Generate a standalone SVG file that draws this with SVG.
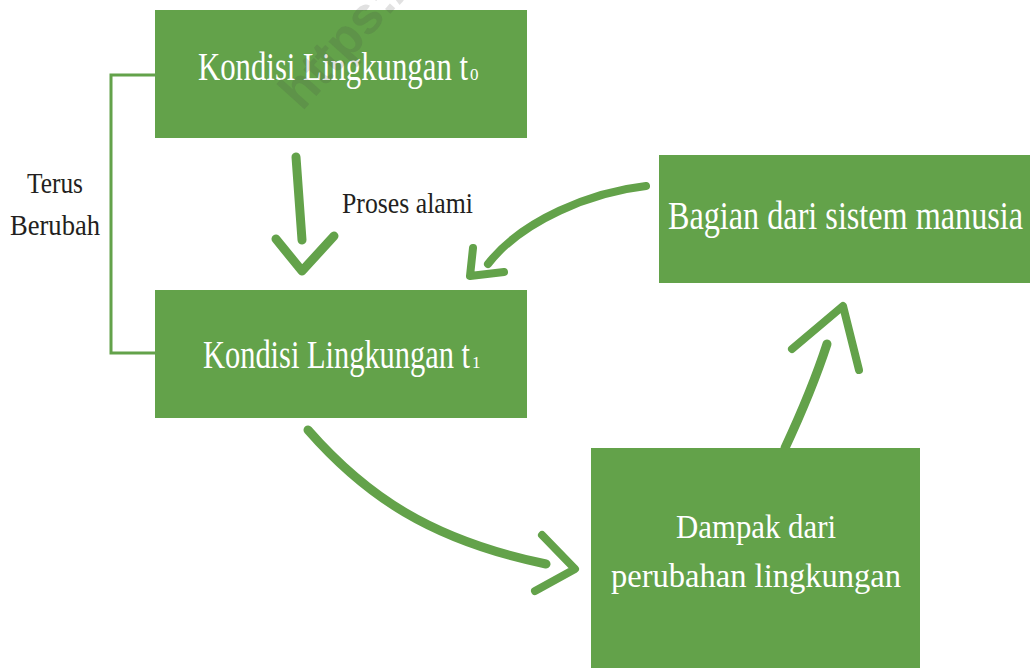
<svg xmlns="http://www.w3.org/2000/svg" width="1030" height="668" viewBox="0 0 1030 668">
<style>
.box{fill:#63a24a}
.bt{font-family:"Liberation Serif",serif;fill:#ffffff}
.lt{font-family:"Liberation Serif",serif;fill:#231f20}
.arr{fill:none;stroke:#63a24a;stroke-linecap:round;stroke-linejoin:round}
</style>
<rect width="1030" height="668" fill="#ffffff"/>
<g id="connectors">
<path id="bracket" d="M155 75 H111 V353 H155" fill="none" stroke="#63a24a" stroke-width="3"/>
<g id="arrow-t0-t1" class="arr">
<path d="M296 157 Q299 200 302 240" stroke-width="9"/>
<path d="M276 239 L302 271 L334 236" stroke-width="9"/>
</g>
<g id="arrow-t1-dampak" class="arr">
<path d="M308 430 C365 495 430 540 546 564" stroke-width="9"/>
<path d="M542 535 L575 569 L535 591" stroke-width="8"/>
</g>
<g id="arrow-dampak-bagian" class="arr">
<path d="M785 448 Q812 390 827 344" stroke-width="9"/>
<path d="M792 349 L843 306 L859 370" stroke-width="8"/>
</g>
<g id="arrow-bagian-t1" class="arr">
<path d="M646 186 C592 192 522 220 488 264" stroke-width="8"/>
<path d="M473 248 L470 276 L504 272" stroke-width="8"/>
</g>
</g>
<g id="node-t0">
<rect class="box" x="155" y="10" width="372" height="128"/>
<text class="bt" x="198" y="80" font-size="40" textLength="270" lengthAdjust="spacingAndGlyphs">Kondisi Lingkungan t</text>
<text class="bt" x="470" y="80" font-size="17">0</text>
</g>
<g id="node-t1">
<rect class="box" x="155" y="290" width="372" height="128"/>
<text class="bt" x="203" y="368" font-size="40" textLength="267" lengthAdjust="spacingAndGlyphs">Kondisi Lingkungan t</text>
<text class="bt" x="472" y="368" font-size="17">1</text>
</g>
<g id="node-bagian">
<rect class="box" x="659" y="155" width="371" height="128"/>
<text class="bt" x="668" y="229" font-size="40" textLength="355" lengthAdjust="spacingAndGlyphs">Bagian dari sistem manusia</text>
</g>
<g id="node-dampak">
<rect class="box" x="591" y="448" width="329" height="220"/>
<text class="bt" x="676" y="538" font-size="34" textLength="160" lengthAdjust="spacingAndGlyphs">Dampak dari</text>
<text class="bt" x="611" y="587" font-size="34" textLength="290" lengthAdjust="spacingAndGlyphs">perubahan lingkungan</text>
</g>
<g id="labels">
<text class="lt" x="27" y="193" font-size="29" textLength="56" lengthAdjust="spacingAndGlyphs">Terus</text>
<text class="lt" x="10" y="235" font-size="29" textLength="90" lengthAdjust="spacingAndGlyphs">Berubah</text>
<text class="lt" x="342" y="213" font-size="29" textLength="131" lengthAdjust="spacingAndGlyphs">Proses alami</text>
</g>
<text id="watermark" x="0" y="0" transform="translate(302,112) rotate(-48)" font-family="Liberation Sans,sans-serif" font-weight="bold" font-size="52" fill="#444444" fill-opacity="0.16">https://</text>
</svg>
